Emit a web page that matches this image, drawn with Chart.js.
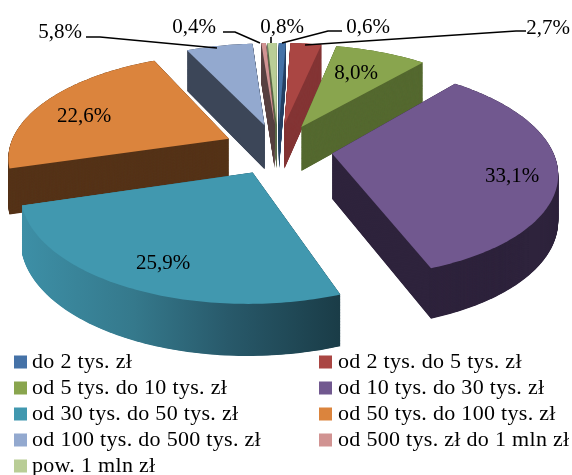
<!DOCTYPE html>
<html><head><meta charset="utf-8">
<style>html,body{margin:0;padding:0;background:#fff}canvas{display:block}</style>
<script src="https://cdn.jsdelivr.net/npm/chart.js@4"></script>
</head><body>
<canvas id="c" width="572" height="475"></canvas>
<script>
const categories = ["do 2 tys. zł","od 2 tys. do 5 tys. zł","od 5 tys. do 10 tys. zł","od 10 tys. do 30 tys. zł","od 30 tys. do 50 tys. zł","od 50 tys. do 100 tys. zł","od 100 tys. do 500 tys. zł","od 500 tys. zł do 1 mln zł","pow. 1 mln zł"];
const values = [0.6,2.7,8.0,33.1,25.9,22.6,5.8,0.4,0.8];
const topColors = ["#4572A7","#AA4643","#89A54E","#71588F","#4198AF","#DB843D","#93A9CF","#D19392","#B9CD96"];
const wallColors = ["#2B4768","#843535","#556930","#2E233C","#1A3C47","#553318","#3C4658","#5A4040","#5E6B4A"];

const CX=278, CY=149, RX=220, RY=102, EXPL=0.248, PERSP=0.16, DEPTH=45;
const FONT='"Liberation Serif", serif';

function project(u,v){const w=1/(1-PERSP*v);return {x:CX+RX*u*w,y:CY+RY*v*w,d:DEPTH*(1+0.65*(w-1))};}
function sliceGeom(arc){
  const a0=arc.startAngle+Math.PI/2, a1=arc.endAngle+Math.PI/2, m=(a0+a1)/2;
  const eu=EXPL*Math.sin(m), ev=-EXPL*Math.cos(m);
  const pts=[project(eu,ev)];
  const n=Math.max(2,Math.ceil((a1-a0)/(Math.PI/180)));
  for(let i=0;i<=n;i++){const t=a0+(a1-a0)*i/n;pts.push(project(eu+Math.sin(t),ev-Math.cos(t)));}
  return {pts,ev};
}
function poly(ctx,p,fill,k){ctx.beginPath();p.forEach((q,i)=>{const y=q.y+q.d*k;i?ctx.lineTo(q.x,y):ctx.moveTo(q.x,y);});ctx.closePath();ctx.fillStyle=fill;ctx.fill();}

const pie3d={id:'pie3d',
  beforeDatasetsDraw(chart){
    const ctx=chart.ctx, meta=chart.getDatasetMeta(0);
    const items=meta.data.map((arc,i)=>({i,...sliceGeom(arc)})).sort((a,b)=>a.ev-b.ev);
    items.forEach(({i,pts})=>{
      let wall=wallColors[i];
      if(i===4){const xs=pts.map(p=>p.x);const g=ctx.createLinearGradient(Math.min(...xs),0,Math.max(...xs),0);
        g.addColorStop(0,"#3D8FA6");g.addColorStop(0.35,"#35798C");g.addColorStop(0.65,"#28596A");g.addColorStop(1,"#1A3C47");wall=g;}
      const steps=120;
      for(let s=steps;s>=0;s--)poly(ctx,pts,wall,s/steps);
      poly(ctx,pts,topColors[i],0);
    });
    return false;
  },
  afterDraw(chart){
    const ctx=chart.ctx;
    const leaders=[[[86,37],[100,37],[217,48]],[[223,32],[235,32],[260,43]],[[271,37],[271,43]],[[342,31],[328,31],[282,43]],[[526,31],[516,31],[305,45]]];
    ctx.strokeStyle="#000";ctx.lineWidth=1.6;
    leaders.forEach(l=>{ctx.beginPath();l.forEach((p,i)=>i?ctx.lineTo(p[0],p[1]):ctx.moveTo(p[0],p[1]));ctx.stroke();});
    const labelPos=[[368,27],[548,28],[356,73],[512,176],[163,263],[84,116],[60,32],[194,27],[282,27]];
    ctx.fillStyle="#000";ctx.textAlign="center";ctx.textBaseline="middle";ctx.font='21px '+FONT;
    values.forEach((v,i)=>ctx.fillText(v.toFixed(1).replace('.',',')+'%',labelPos[i][0],labelPos[i][1]));
    ctx.textAlign="left";ctx.font='22px '+FONT;ctx.letterSpacing='0.3px';
    const rows=[362,388,414,440,466];
    categories.forEach((c,i)=>{
      const col=i%2,row=Math.floor(i/2),x=col?319:14,y=rows[row];
      ctx.fillStyle=topColors[i];ctx.fillRect(x,y-6.5,13,13);
      ctx.fillStyle="#000";ctx.fillText(c,x+(col?19:18),y);
    });
    ctx.letterSpacing='0px';
  }
};

new Chart(document.getElementById('c'),{
  type:'pie',
  data:{labels:categories,datasets:[{data:values,backgroundColor:topColors,borderWidth:0}]},
  options:{responsive:false,animation:false,events:[],plugins:{legend:{display:false},tooltip:{enabled:false}}},
  plugins:[pie3d]
});
</script>
</body></html>
